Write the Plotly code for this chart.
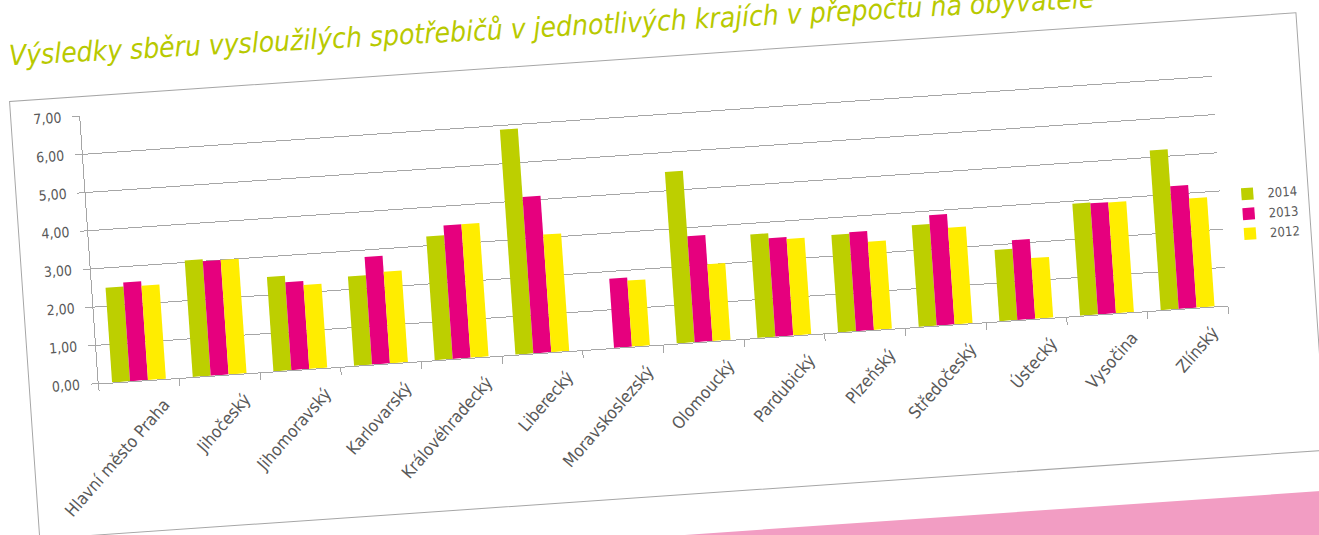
import plotly.graph_objects as go

# ---- data (values tilt-corrected) ----
regions = ["Hlavní město Praha", "Jihočeský", "Jihomoravský", "Karlovarský",
           "Královéhradecký", "Liberecký", "Moravskoslezský", "Olomoucký",
           "Pardubický", "Plzeňský", "Středočeský", "Ústecký", "Vysočina", "Zlínský"]
v2014 = [2.48, 3.05, 2.47, 2.34, 3.24, 5.89, None, 4.49, 2.71, 2.55, 2.66, 1.87, 2.93, 4.18]
v2013 = [2.59, 3.00, 2.30, 2.82, 3.50, 4.10, 1.81, 2.78, 2.58, 2.59, 2.89, 2.09, 2.91, 3.21]
v2012 = [2.47, 3.00, 2.20, 2.40, 3.50, 3.08, 1.73, 2.01, 2.53, 2.31, 2.53, 1.59, 2.90, 2.86]
years = ["2014", "2013", "2012"]
colors = ["#BDCF00", "#E6007E", "#FFED00"]
title_text = "Výsledky sběru vysloužilých spotřebičů v jednotlivých krajích v přepočtu na obyvatele"

# ---- geometry (unrotated page, pixels) ----
W, H = 1340, 620
PL, PT, PR, PB = 79.5, 99.5, 1212.0, 368.4   # plot area box
ANGLE = 3.95
OX, OY = -6.5, 21.9

def xp(u):
    return (u - PL) / (PR - PL)

def yp(v):
    return (PB - v) / (PB - PT)

NARROW = "Liberation Sans Narrow, Arial Narrow, DejaVu Sans Condensed, sans-serif"
GRAY = "#A6A6A6"
TXT = "#595959"

fig = go.Figure()
for name, vals, col in zip(years, [v2014, v2013, v2012], colors):
    fig.add_trace(go.Bar(x=regions, y=vals, name=name, marker_color=col,
                         marker_line_width=0, legendgroup=name))

fig.update_layout(
    width=W, height=H,
    margin=dict(l=PL, r=W - PR, t=PT, b=H - PB, autoexpand=False, pad=0),
    paper_bgcolor="white", plot_bgcolor="white",
    separators=", ",
    barmode="group", bargap=0.333, bargroupgap=0,
    font=dict(family=NARROW, color=TXT, size=14),
    showlegend=True,
    legend=dict(x=xp(1219), y=yp(243), xanchor="left", yanchor="top",
                font=dict(size=13, color=TXT, family=NARROW),
                tracegroupgap=5, traceorder="normal", bgcolor="rgba(0,0,0,0)",
                itemwidth=30),
    xaxis=dict(showline=True, linecolor=GRAY, linewidth=1, ticks="outside",
               tickson="boundaries", ticklen=7, tickcolor=GRAY, tickangle=-45,
               tickfont=dict(size=17, color=TXT, family=NARROW),
               ticklabelshift=24, ticklabelstandoff=8, showgrid=False),
    yaxis=dict(range=[0, 7], dtick=1, tickformat=".2f", showline=True,
               linecolor=GRAY, linewidth=1, ticks="outside", ticklen=7,
               tickcolor=GRAY, showgrid=True, gridcolor=GRAY, gridwidth=1,
               zeroline=False, tickfont=dict(size=14, color=TXT, family=NARROW),
               ticklabelstandoff=8),
    shapes=[
        dict(type="rect", xref="paper", yref="paper", x0=xp(10), x1=xp(1300),
             y0=yp(520), y1=yp(80), line=dict(color=GRAY, width=1), layer="below"),
        dict(type="rect", xref="paper", yref="paper", x0=xp(-60), x1=xp(1400),
             y0=yp(700), y1=yp(560.5), fillcolor="#F29DC3", line=dict(width=0),
             layer="below"),
    ],
    annotations=[
        dict(text=title_text, xref="paper", yref="paper", x=xp(10), y=yp(43),
             xanchor="left", yanchor="middle", showarrow=False, textangle=0.9,
             font=dict(size=28, color="#B8C900", family=NARROW, style="italic")),
    ],
)

post = """
var gd = document.getElementById('{plot_id}');
document.documentElement.style.overflow = 'hidden';
document.body.style.margin = '0';
document.body.style.overflow = 'hidden';
document.body.style.background = 'white';
gd.style.position = 'absolute';
gd.style.left = '0px';
gd.style.top = '0px';
gd.style.transformOrigin = '0 0';
gd.style.transform = 'translate(OXpx, OYpx) rotate(-ANGdeg)';
""".replace("OX", str(OX)).replace("OY", str(OY)).replace("ANG", str(ANGLE))

fig.write_html("out.html", post_script=post)
